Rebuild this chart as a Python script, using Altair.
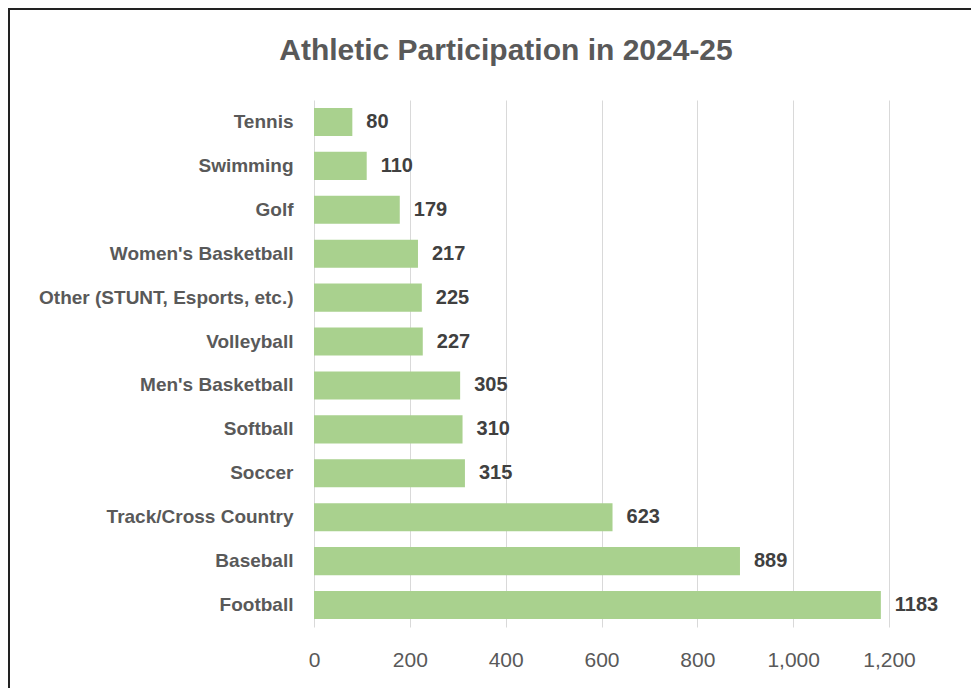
import altair as alt
import pandas as pd

sports = ["Tennis", "Swimming", "Golf", "Women's Basketball",
          "Other (STUNT, Esports, etc.)", "Volleyball", "Men's Basketball",
          "Softball", "Soccer", "Track/Cross Country", "Baseball", "Football"]
counts = [80, 110, 179, 217, 225, 227, 305, 310, 315, 623, 889, 1183]
tick_values = [0, 200, 400, 600, 800, 1000, 1200]
title_text = "Athletic Participation in 2024-25"

FONT = "'Liberation Sans', Arial, sans-serif"
W, H = 575, 527

df = pd.DataFrame({"sport": sports, "count": counts})

y_enc = alt.Y("sport:N", sort=sports,
              scale=alt.Scale(paddingInner=0.36, paddingOuter=0.18),
              axis=alt.Axis(title=None, ticks=False, domain=False, grid=False,
                            labelFontSize=19, labelFontWeight="bold",
                            labelColor="#595959", labelPadding=21,
                            labelFont=FONT, labelLimit=320))
x_enc = alt.X("count:Q", scale=alt.Scale(domain=[0, 1200], nice=False),
              axis=alt.Axis(title=None, values=tick_values, format=",d",
                            ticks=False, domain=False, grid=True,
                            gridColor="#d9d9d9", gridWidth=1,
                            labelFontSize=21, labelColor="#595959",
                            labelPadding=22, labelFont=FONT,
                            labelFlush=False))

bars = alt.Chart(df).mark_bar(color="#a9d18e").encode(x=x_enc, y=y_enc)

labels = alt.Chart(df).mark_text(align="left", baseline="middle", dx=14,
                                 fontSize=20, fontWeight="bold",
                                 color="#404040", font=FONT).encode(
    x="count:Q", y=alt.Y("sport:N", sort=sports),
    text=alt.Text("count:Q", format="d"))

border = alt.Chart(pd.DataFrame({"a": [0]})).mark_rect(
    fill=None, stroke="#222222", strokeWidth=2).encode(
    x=alt.value(-305), x2=alt.value(W + 200),
    y=alt.value(-91), y2=alt.value(H + 200))

title = alt.Chart(pd.DataFrame({"t": [title_text]})).mark_text(
    align="center", baseline="alphabetic", fontSize=30, fontWeight="bold",
    color="#595959", font=FONT).encode(
    x=alt.value(192), y=alt.value(-40), text="t:N")

chart = alt.layer(border, bars, labels, title).properties(
    width=W, height=H,
    autosize=alt.AutoSizeParams(type="none"),
    padding={"left": 306, "top": 92, "right": 82, "bottom": 61},
).configure_view(stroke=None)

chart.save("out.html", embed_options={"renderer": "svg", "actions": False})
